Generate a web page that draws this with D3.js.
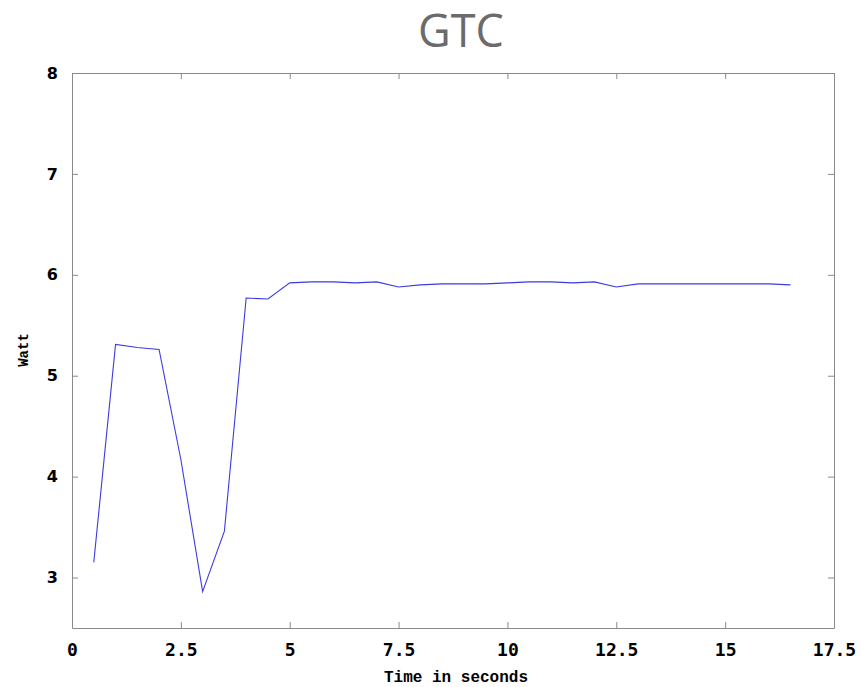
<!DOCTYPE html>
<html>
<head>
<meta charset="utf-8">
<script src="https://cdn.jsdelivr.net/npm/d3@7"></script>
<style>
  body { margin: 0; background: #fff; }
  #chart text { fill: #000; }
</style>
</head>
<body>
<div id="chart"></div>
<script>
// power draw sampled every half second
var times = [0.5, 1, 1.5, 2, 2.5, 3, 3.5, 4, 4.5, 5, 5.5, 6, 6.5, 7, 7.5, 8, 8.5,
  9, 9.5, 10, 10.5, 11, 11.5, 12, 12.5, 13, 13.5, 14, 14.5, 15, 15.5, 16, 16.5];
var watts = [3.15, 5.31, 5.28, 5.26, 4.17, 2.86, 3.46, 5.77, 5.76, 5.92, 5.93, 5.93, 5.92,
  5.93, 5.88, 5.90, 5.91, 5.91, 5.91, 5.92, 5.93, 5.93, 5.92, 5.93, 5.88, 5.91,
  5.91, 5.91, 5.91, 5.91, 5.91, 5.91, 5.90];
var xTicks = [0, 2.5, 5, 7.5, 10, 12.5, 15, 17.5];
var yTicks = [3, 4, 5, 6, 7, 8];

var width = 861, height = 687;
var margin = { left: 72, right: 834, top: 73, bottom: 628 };

var svg = d3.select("#chart")
  .append("svg")
  .attr("width", width)
  .attr("height", height);

var x = d3.scaleLinear().domain([0, 17.5]).range([margin.left, margin.right]);
var y = d3.scaleLinear().domain([2.5, 8]).range([margin.bottom, margin.top]);

// title
svg.append("text")
  .attr("x", 461)
  .attr("y", 47)
  .attr("text-anchor", "middle")
  .style("font-family", "'Open Sans', sans-serif")
  .style("font-size", "45px")
  .style("fill", "#6b6b6d")
  .text("GTC");

// axes, gnuplot style: ticks point inward and are mirrored
var frameColor = "#8a8a8a";

var xAxis = svg.append("g")
  .attr("transform", "translate(0," + margin.bottom + ")")
  .call(d3.axisBottom(x).tickValues(xTicks).tickSizeInner(-6).tickSizeOuter(0)
    .tickPadding(15).tickFormat(d3.format("")));
xAxis.selectAll("text")
  .style("font-family", "'DejaVu Sans Mono', monospace")
  .style("font-weight", "bold")
  .style("font-size", "18px");

svg.append("g")
  .attr("transform", "translate(0," + margin.top + ")")
  .call(d3.axisTop(x).tickValues(xTicks).tickSizeInner(-6).tickSizeOuter(0).tickFormat(""));

var yAxis = svg.append("g")
  .attr("transform", "translate(" + margin.left + ",0)")
  .call(d3.axisLeft(y).tickValues(yTicks).tickSizeInner(-6).tickSizeOuter(0)
    .tickPadding(14).tickFormat(d3.format("d")));
yAxis.selectAll("text")
  .style("font-family", "'DejaVu Sans', sans-serif")
  .style("font-weight", "bold")
  .style("font-size", "16px");

svg.append("g")
  .attr("transform", "translate(" + margin.right + ",0)")
  .call(d3.axisRight(y).tickValues(yTicks).tickSizeInner(-6).tickSizeOuter(0).tickFormat(""));

svg.selectAll(".domain").style("stroke", frameColor);
svg.selectAll(".tick line").style("stroke", frameColor);

// axis titles
svg.append("text")
  .attr("x", 456)
  .attr("y", 682)
  .attr("text-anchor", "middle")
  .style("font-family", "'Liberation Mono', monospace")
  .style("font-weight", "bold")
  .style("font-size", "16px")
  .text("Time in seconds");

svg.append("text")
  .attr("transform", "translate(28,350) rotate(-90)")
  .attr("text-anchor", "middle")
  .style("font-family", "'Liberation Mono', monospace")
  .style("font-weight", "bold")
  .style("font-size", "14px")
  .text("Watt");

// the series
var line = d3.line()
  .x(function(d, i) { return x(times[i]); })
  .y(function(d) { return y(d); });

svg.append("path")
  .datum(watts)
  .attr("d", line)
  .style("fill", "none")
  .style("stroke", "#3b3be0")
  .style("stroke-width", "1.1");
</script>
</body>
</html>
